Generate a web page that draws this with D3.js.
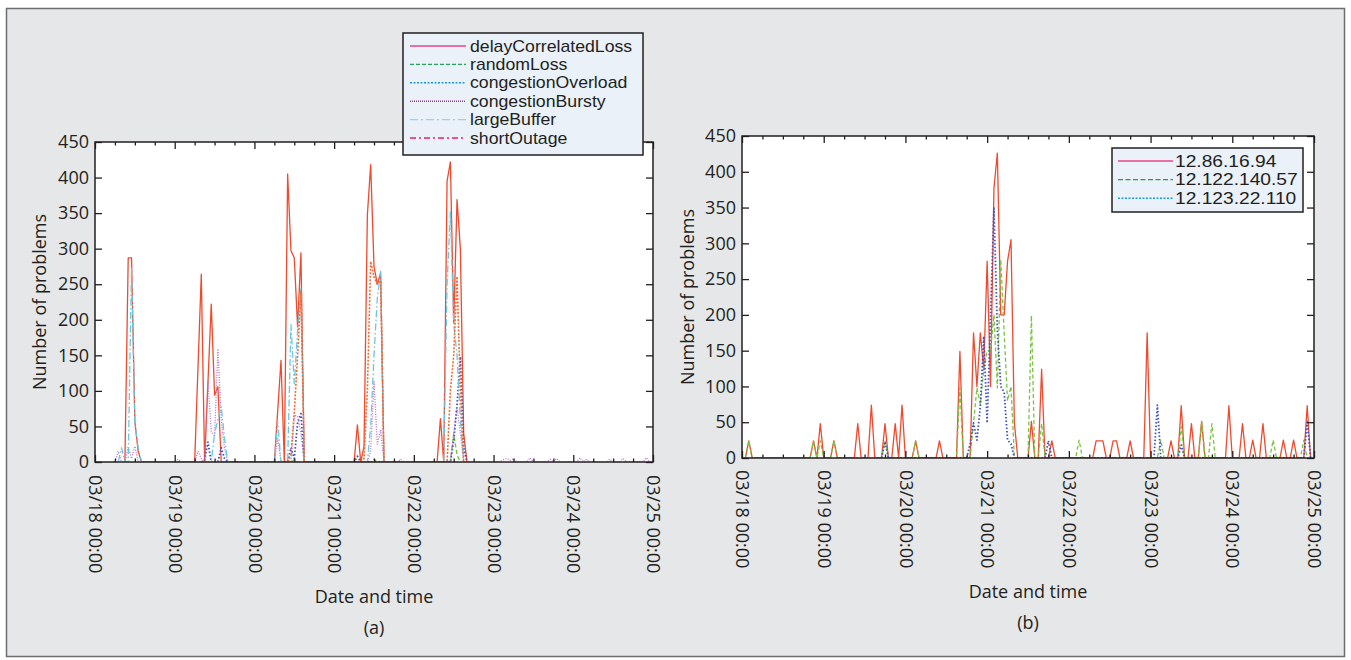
<!DOCTYPE html>
<html>
<head>
<meta charset="utf-8">
<script src="https://cdn.jsdelivr.net/npm/d3@7"></script>
<style>
  body { margin: 0; background: #fff; }
  text { font-family: "Open Sans", sans-serif; fill: #231f20; }
  text.legend { font-family: "Liberation Sans", Arial, sans-serif; }
</style>
</head>
<body>
<svg id="fig" width="1351" height="660"></svg>
<script>
// === data (hours after 03/18 00:00, number of problems) ===
const xTickLabels = ["03/18 00:00", "03/19 00:00", "03/20 00:00", "03/21 00:00",
                     "03/22 00:00", "03/23 00:00", "03/24 00:00", "03/25 00:00"];
const yTicks = [0, 50, 100, 150, 200, 250, 300, 350, 400, 450];

// panel (a) : problem types
const leftNames = ["delayCorrelatedLoss", "randomLoss", "congestionOverload",
                   "congestionBursty", "largeBuffer", "shortOutage"];

const delayCorrelatedLoss = [
  [9,0],[10,287],[11,287],[12,57],[13,15],[14,0],
  [30,0],[32,264],[33,0],[35,222],[36,94],[37,106],[38,0],
  [54,0],[56,143],[57,0],[58,405],[59,297],[60,287],[61,190],[62,294],[63,0],
  [78,0],[79,52],[80,0],[81,22],[82,347],[83,418],[84,275],[85,250],[86,266],[87,0],
  [103,0],[104,61],[105,0],[106,395],[107,422],[108,195],[109,369],[110,300],[111,40],[112,0]
];
const randomLoss = [
  [59,0],[60,3],[61,0],[83,0],[84,4],[85,0],[107,0],[108,40],[109,10],[110,0]
];
const congestionOverload = [
  [32,0],[33,3],[34,28],[35,0],[37,0],[38,20],[39,5],[40,0],
  [58,0],[59,20],[60,5],[61,55],[62,68],[63,0],
  [78,0],[79,8],[80,0],
  [107,0],[108,30],[109,80],[110,148],[111,20],[112,0]
];
const congestionBursty = [
  [6,0],[7,15],[8,0],[9,0],[10,22],[11,5],[12,22],[13,0],
  [24,0],[25,4],[26,0],
  [30,0],[31,15],[32,5],[33,0],[34,115],[35,43],[36,36],[37,159],[38,60],[39,19],[40,0],
  [54,0],[55,33],[56,0],[59,0],[60,66],[61,64],[62,40],[63,0],
  [82,0],[83,15],[84,113],[85,25],[86,45],[87,0],
  [91,0],[92,4],[93,0],
  [107,0],[108,40],[109,78],[110,40],[111,0],
  [122,0],[123,3],[124,5],[125,2],[126,5],[127,0],[130,0],[131,6],[132,0],
  [136,0],[137,4],[138,0],[139,5],[140,0],[145,0],[146,6],[147,0],[148,4],[149,0],
  [154,0],[155,4],[156,0],[158,0],[159,5],[160,0],[165,0],[166,6],[167,0]
];
const largeBuffer = [
  [7,0],[8,20],[9,0],[10,0],[11,275],[12,54],[13,20],[14,0],
  [35,0],[36,40],[37,60],[38,78],[39,33],[40,0],
  [54,0],[55,57],[56,0],[58,0],[59,193],[60,110],[61,185],[62,246],[63,0],
  [82,0],[83,50],[84,150],[85,230],[86,268],[87,0],
  [105,0],[106,250],[107,352],[108,195],[109,150],[110,60],[111,0]
];
const shortOutage = [
  [58,0],[59,10],[60,70],[61,150],[62,240],[63,0],
  [80,0],[81,5],[82,100],[83,282],[84,260],[85,250],[86,255],[87,0],
  [106,0],[107,100],[108,150],[109,261],[110,100],[111,0]
];

// panel (b) : three hosts
const rightNames = ["12.86.16.94", "12.122.140.57", "12.123.22.110"];

const host1 = [
  [1,0],[2,24],[3,0],[20,0],[21,24],[22,0],[23,48],[24,0],[26,0],[27,24],[28,0],
  [33,0],[34,48],[35,0],[37,0],[38,74],[39,0],[41,0],[42,48],[43,0],
  [44,0],[45,48],[46,0],[47,74],[48,0],[50,0],[51,24],[52,0],[57,0],[58,24],[59,0],
  [63,0],[64,149],[65,0],[67,0],[68,175],[69,100],[70,175],[71,123],[72,275],[73,100],
  [74,377],[75,426],[76,200],[77,200],[78,275],[79,305],[80,49],[81,0],
  [84,0],[85,51],[86,0],[87,0],[88,124],[89,0],[90,0],[91,24],[92,0],
  [103,0],[104,24],[105,24],[106,24],[107,0],[108,0],[109,24],[110,24],[111,0],
  [113,0],[114,24],[115,0],[118,0],[119,175],[120,0],
  [125,0],[126,24],[127,0],[128,0],[129,73],[130,0],[131,0],[132,48],[133,0],
  [134,0],[135,51],[136,0],[142,0],[143,73],[144,0],[146,0],[147,48],[148,0],
  [149,0],[150,25],[151,0],[152,0],[153,48],[154,0],[158,0],[159,25],[160,0],
  [161,0],[162,25],[163,0],[165,0],[166,73],[167,0]
];
const host2 = [
  [1,0],[2,24],[3,0],[20,0],[21,24],[22,0],[23,24],[24,0],[26,0],[27,24],[28,0],
  [41,0],[42,24],[43,0],[50,0],[51,24],[52,0],
  [63,0],[64,98],[65,0],[67,0],[68,49],[69,98],[70,75],[71,123],[72,150],[73,150],
  [74,200],[75,98],[76,277],[77,175],[78,80],[79,100],[80,0],
  [84,0],[85,199],[86,0],[87,0],[88,48],[89,0],[98,0],[99,25],[100,0],
  [122,0],[123,25],[124,0],[128,0],[129,44],[130,0],[134,0],[135,51],[136,0],
  [137,0],[138,48],[139,0],[155,0],[156,25],[157,0],[164,0],[165,25],[166,0]
];
const host3 = [
  [41,0],[42,23],[43,0],
  [66,0],[67,20],[68,49],[69,25],[70,72],[71,170],[72,49],[73,200],[74,349],
  [75,180],[76,100],[77,92],[78,25],[79,20],[80,0],
  [89,0],[90,24],[91,0],[121,0],[122,74],[123,0],[128,0],[129,18],[130,0],
  [165,0],[166,50],[167,0]
];

// === layout / style ===
const START = new Date(Date.UTC(2009, 2, 18));
const END = new Date(Date.UTC(2009, 2, 25));
const ink = "#231f20";

const svg = d3.select("#fig");

// grey figure panel
svg.append("rect")
  .attr("x", 6.5).attr("y", 8.5)
  .attr("width", 1338).attr("height", 648)
  .attr("fill", "#e6e7e8")
  .attr("stroke", "#6d6e71")
  .attr("stroke-width", 1.5);

function drawPanel(cfg) {
  const { L, R, T, B } = cfg.box;
  const g = svg.append("g");

  const x = d3.scaleUtc().domain([START, END]).range([L, R]);
  const y = d3.scaleLinear().domain([0, 450]).range([B, T]);

  g.append("rect")
    .attr("x", L).attr("y", T)
    .attr("width", R - L).attr("height", B - T)
    .attr("fill", "#fff");

  const clipId = "clip-" + cfg.id;
  g.append("clipPath").attr("id", clipId)
    .append("rect")
    .attr("x", L).attr("y", T)
    .attr("width", R - L).attr("height", B - T);

  const line = d3.line()
    .x((d) => x(d3.utcHour.offset(START, d[0])))
    .y((d) => y(d[1]));

  const lines = g.append("g").attr("clip-path", `url(#${clipId})`);
  cfg.series.forEach((s) => {
    lines.append("path")
      .attr("d", line(s.data))
      .attr("fill", "none")
      .attr("stroke", s.color)
      .attr("stroke-width", s.width)
      .attr("stroke-dasharray", s.dash)
      .attr("stroke-linejoin", "round");
  });

  // ticks: days (major) and 6h (minor), pointing inward
  const days = d3.utcDay.range(START, d3.utcDay.offset(END, 1));
  const minor = d3.utcHour.every(6).range(START, END).filter((d) => d.getUTCHours() !== 0);

  const bottom = g.append("g").attr("transform", `translate(0,${B})`)
    .call(d3.axisBottom(x).tickValues(days).tickSizeInner(-7).tickSizeOuter(0)
      .tickPadding(0).tickFormat((d, i) => xTickLabels[i]));
  bottom.selectAll("text")
    .attr("transform", "rotate(90)")
    .attr("x", cfg.labelPad).attr("y", 0).attr("dy", "0.35em")
    .attr("text-anchor", "start")
    .style("font-size", "18px")
    .style("font-family", "'Open Sans', sans-serif")
    .attr("fill", ink);
  g.append("g").attr("transform", `translate(0,${B})`)
    .call(d3.axisBottom(x).tickValues(minor).tickSizeInner(-3.5).tickSizeOuter(0).tickFormat(""));
  g.append("g").attr("transform", `translate(0,${T})`)
    .call(d3.axisTop(x).tickValues(days).tickSizeInner(-7).tickSizeOuter(0).tickFormat(""));
  g.append("g").attr("transform", `translate(0,${T})`)
    .call(d3.axisTop(x).tickValues(minor).tickSizeInner(-3.5).tickSizeOuter(0).tickFormat(""));

  const left = g.append("g").attr("transform", `translate(${L},0)`)
    .call(d3.axisLeft(y).tickValues(yTicks).tickSizeInner(-7).tickSizeOuter(0).tickPadding(6));
  left.selectAll("text")
    .style("font-size", "18px")
    .style("font-family", "'Open Sans', sans-serif")
    .attr("fill", ink);
  g.append("g").attr("transform", `translate(${R},0)`)
    .call(d3.axisRight(y).tickValues(yTicks).tickSizeInner(-7).tickSizeOuter(0).tickFormat(""));

  g.selectAll(".domain").remove();
  g.selectAll(".tick line").attr("stroke", ink).attr("stroke-width", 1.3);

  g.append("rect")
    .attr("x", L).attr("y", T)
    .attr("width", R - L).attr("height", B - T)
    .attr("fill", "none")
    .attr("stroke", ink)
    .attr("stroke-width", 1.5);

  // titles
  const cx = (L + R) / 2;
  g.append("text")
    .attr("transform", `translate(${cfg.yTitleX},${(T + B) / 2}) rotate(-90)`)
    .attr("text-anchor", "middle")
    .style("font-size", "18px")
    .text("Number of problems");
  g.append("text")
    .attr("x", cx).attr("y", cfg.xTitleY)
    .attr("text-anchor", "middle")
    .style("font-size", "18px")
    .text("Date and time");
  g.append("text")
    .attr("x", cx).attr("y", cfg.captionY)
    .attr("text-anchor", "middle")
    .style("font-size", "18px")
    .text(cfg.caption);

  // legend
  const lg = cfg.legend;
  g.append("rect")
    .attr("x", lg.x0).attr("y", lg.y0)
    .attr("width", lg.x1 - lg.x0).attr("height", lg.y1 - lg.y0)
    .attr("fill", "#eaf1f8")
    .attr("stroke", ink)
    .attr("stroke-width", 1.5);
  lg.names.forEach((name, i) => {
    const ry = lg.rowY + i * lg.step;
    g.append("line")
      .attr("x1", lg.sx0).attr("x2", lg.sx1)
      .attr("y1", ry).attr("y2", ry)
      .attr("stroke", lg.colors[i])
      .attr("stroke-width", 1.4)
      .attr("stroke-dasharray", lg.dashes[i]);
    // narrow line box font, stretched sideways to the printed width
    g.append("text")
      .attr("class", "legend")
      .attr("transform", `translate(${lg.tx},${ry + lg.font * 0.36}) scale(${lg.stretch},1)`)
      .style("font-size", lg.font + "px")
      .text(name);
  });
}

drawPanel({
  id: "a",
  box: { L: 95, R: 653, T: 142, B: 462 },
  labelPad: 13,
  yTitleX: 46,
  xTitleY: 603,
  captionY: 634,
  caption: "(a)",
  series: [
    { data: delayCorrelatedLoss, color: "#ef4a2e", width: 1.3, dash: null },
    { data: randomLoss, color: "#6cbf45", width: 1.3, dash: "4,2.5" },
    { data: congestionOverload, color: "#3a4dbf", width: 1.8, dash: "1.5,2" },
    { data: congestionBursty, color: "#b86fc6", width: 1.3, dash: "1,1.5" },
    { data: largeBuffer, color: "#6cc6df", width: 1.3, dash: "7,2.5,1.5,2.5" },
    { data: shortOutage, color: "#f26a35", width: 1.6, dash: "2,1.5" }
  ],
  legend: {
    x0: 403, x1: 643, y0: 33, y1: 155,
    sx0: 410, sx1: 466, tx: 470, rowY: 46, step: 18.4, font: 15.8, stretch: 1.12,
    names: leftNames,
    colors: ["#e9468a", "#25a35a", "#1a9ad7", "#8b3f98", "#8fd4f2", "#ec1c6f"],
    dashes: [null, "4,2", "2,1.5", "1,1", "8,3,2,3", "6,3,2,3"]
  }
});

drawPanel({
  id: "b",
  box: { L: 742, R: 1314, T: 136, B: 458 },
  labelPad: 12,
  yTitleX: 694,
  xTitleY: 598,
  captionY: 629,
  caption: "(b)",
  series: [
    { data: host1, color: "#ef4a2e", width: 1.3, dash: null },
    { data: host2, color: "#7cc242", width: 1.3, dash: "4,2.5" },
    { data: host3, color: "#3d50c2", width: 1.8, dash: "1.5,2" }
  ],
  legend: {
    x0: 1112, x1: 1303, y0: 148, y1: 212,
    sx0: 1118, sx1: 1173, tx: 1175, rowY: 161, step: 18.6, font: 16, stretch: 1.2,
    names: rightNames,
    colors: ["#e9468a", "#10a84f", "#1a9ad7"],
    dashes: [null, "5,2.5", "2,1.5"]
  }
});
</script>
</body>
</html>
